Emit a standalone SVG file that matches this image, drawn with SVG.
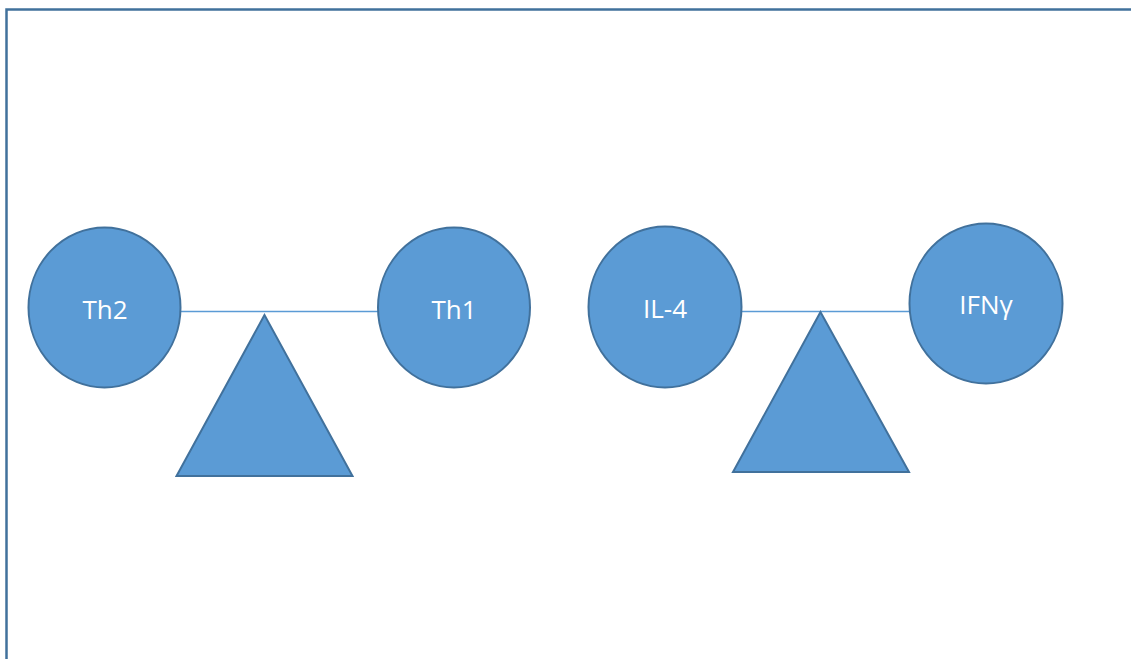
<svg xmlns="http://www.w3.org/2000/svg" width="1131" height="659" viewBox="0 0 1131 659">
<style>
.shape{fill:#5B9BD5;stroke:#41719C;stroke-width:2}
.lbl{font-family:"Open Sans","Liberation Sans",sans-serif;font-size:26px;fill:#ffffff;text-anchor:middle}
.conn{stroke:#5B9BD5;stroke-width:1.5;fill:none}
</style>
<rect x="0" y="0" width="1131" height="659" fill="#ffffff"/>
<path d="M6.5 660 V9.5 H1132" fill="none" stroke="#41719C" stroke-width="2.5"/>
<g id="connectors">
<line class="conn" x1="181" y1="311.5" x2="378" y2="311.5"/>
<line class="conn" x1="742" y1="311.5" x2="909" y2="311.5"/>
</g>
<g id="fulcrum1"><polygon class="shape" points="264.5,315 176.5,476 352.5,476"/></g>
<g id="fulcrum2"><polygon class="shape" points="820.5,312 733,472 909,472"/></g>
<g id="th2"><ellipse class="shape" cx="104.5" cy="307.5" rx="76" ry="80"/><text class="lbl" x="105" y="318.5">Th2</text></g>
<g id="th1"><ellipse class="shape" cx="454" cy="307.5" rx="76" ry="80"/><text class="lbl" x="454" y="318.5">Th1</text></g>
<g id="il4"><ellipse class="shape" cx="665" cy="307" rx="76.5" ry="80.5"/><text class="lbl" x="665" y="317.5">IL-4</text></g>
<g id="ifng"><ellipse class="shape" cx="986" cy="303.5" rx="76.5" ry="80"/><text class="lbl" x="986" y="314">IFNγ</text></g>
</svg>
